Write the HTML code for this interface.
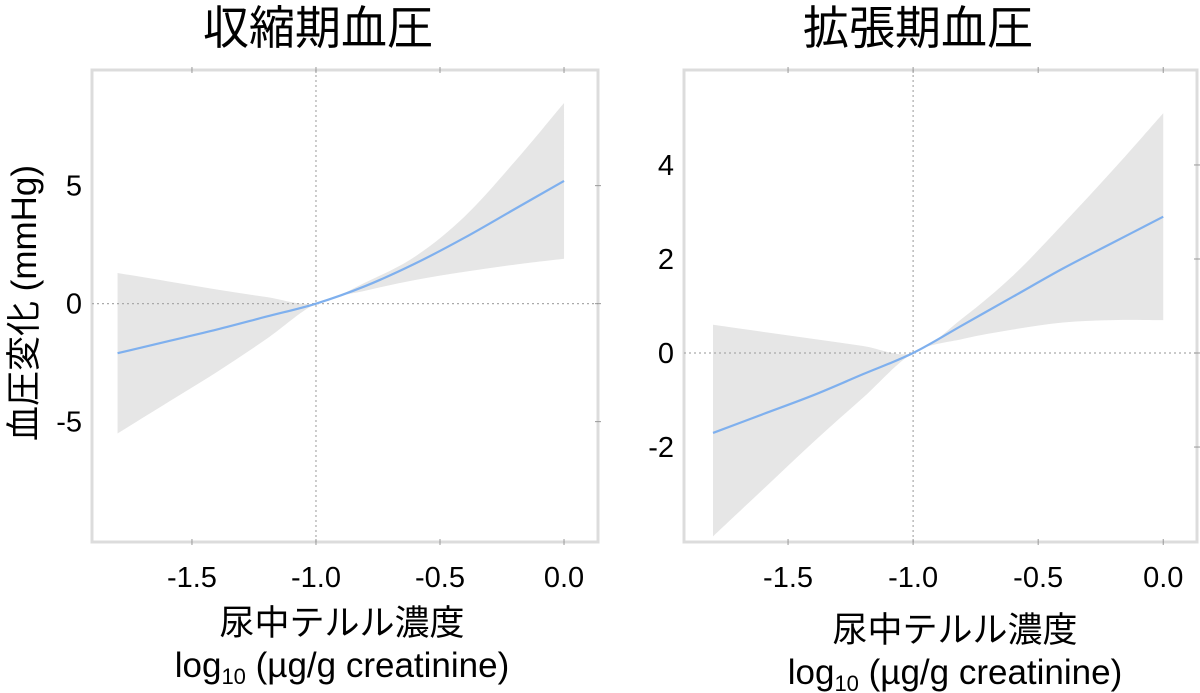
<!DOCTYPE html>
<html><head><meta charset="utf-8"><style>
body{margin:0;background:#fff;}
svg{display:block;font-family:"Liberation Sans","Noto Sans CJK JP",sans-serif;}
</style></head><body>
<svg id="c" width="1200" height="693"></svg>
<script>
const xs=[-1.8,-1.6,-1.4,-1.2,-1.0,-0.8,-0.6,-0.4,-0.2,0];
const sysLine=[-2.1,-1.6,-1.1,-0.55,0,0.75,1.7,2.8,4.0,5.2];
const sysUpper=[1.3,0.95,0.6,0.28,0,0.9,2.0,3.7,6.0,8.5];
const sysLower=[-5.5,-4.2,-2.9,-1.5,0,0.55,1.0,1.35,1.65,1.9];
const diaLine=[-1.7,-1.3,-0.9,-0.45,0,0.6,1.2,1.8,2.35,2.9];
const diaUpper=[0.6,0.45,0.3,0.15,0,0.75,1.65,2.75,3.9,5.1];
const diaLower=[-3.9,-2.9,-1.9,-0.95,0,0.3,0.5,0.65,0.7,0.7];
const xTicks=[-1.5,-1.0,-0.5,0.0];
const sysYTicks=[-5,0,5];
const diaYTicks=[-2,0,2,4];
const NS="http://www.w3.org/2000/svg";
const svg=document.getElementById('c');
function mk(t,a,p){const e=document.createElementNS(NS,t);for(const k in a)e.setAttribute(k,a[k]);(p||svg).appendChild(e);return e;}
function smooth(pts){let d='M'+pts[0][0]+','+pts[0][1];for(let i=0;i<pts.length-1;i++){const p0=pts[Math.max(i-1,0)],p1=pts[i],p2=pts[i+1],p3=pts[Math.min(i+2,pts.length-1)];d+='C'+(p1[0]+(p2[0]-p0[0])/6)+','+(p1[1]+(p2[1]-p0[1])/6)+' '+(p2[0]-(p3[0]-p1[0])/6)+','+(p2[1]-(p3[1]-p1[1])/6)+' '+p2[0]+','+p2[1];}return d;}
function panel(o){
 const g=mk('g',{});
 
 
 const sx=v=>o.x0+(v-o.xmin)/(o.xmax-o.xmin)*(o.x1-o.x0);
 const sy=v=>o.y1-(v-o.ymin)/(o.ymax-o.ymin)*(o.y1-o.y0);
 const fr=mk('rect',{x:o.x0,y:o.y0,width:o.x1-o.x0,height:o.y1-o.y0,fill:'none',stroke:'#dcdcdc','stroke-width':3},g);
 
 
 const up=xs.map((x,i)=>[sx(x),sy(o.up[i])]);
 const lo=xs.map((x,i)=>[sx(x),sy(o.lo[i])]).reverse();
 const band=mk('path',{d:smooth(up)+smooth(lo).replace('M','L')+'Z',fill:'#e6e6e6'},g);
 
 
 const h=mk('line',{x1:o.x0,x2:o.x1,y1:sy(0),y2:sy(0),stroke:'#aaa','stroke-dasharray':'2,3','stroke-width':1.2},g);
 
 
 const v=mk('line',{x1:sx(-1),x2:sx(-1),y1:o.y0,y2:o.y1,stroke:'#aaa','stroke-dasharray':'2,3','stroke-width':1.2},g);
 
 
 const ln=mk('path',{d:smooth(xs.map((x,i)=>[sx(x),sy(o.line[i])])),fill:'none',stroke:'#7fb0ee','stroke-width':2.2},g);
 
 
 xTicks.forEach(t=>{
  const tk=mk('line',{x1:sx(t),x2:sx(t),y1:o.y1-3,y2:o.y1+3,stroke:'#999'},g);
  
  
  const tk2=mk('line',{x1:sx(t),x2:sx(t),y1:o.y0-3,y2:o.y0+3,stroke:'#999'},g);
  
  
  const tl=mk('text',{x:sx(t),y:o.y1+45,'font-size':29,'text-anchor':'middle'},g);
  tl.textContent=t.toFixed(1);
  
  
 });
 o.yt.forEach(t=>{
  const tk=mk('line',{x1:o.x1-3,x2:o.x1+3,y1:sy(t),y2:sy(t),stroke:'#999'},g);
  
  
  const tl=mk('text',{x:o.x0-10,y:sy(t)+10,'font-size':29,'text-anchor':'end'},g);
  tl.textContent=String(t);
  
  
 });
 const ti=mk('text',{x:o.tx,y:44,'font-size':46,'text-anchor':'middle'},g);
 ti.textContent=o.title;
 
 
 const xl=mk('text',{x:o.lx,y:o.ly,'font-size':35,'text-anchor':'middle'},g);
 xl.textContent='尿中テルル濃度';
 
 
 const xl2=mk('text',{x:o.lx,y:o.ly+42,'font-size':35,'text-anchor':'middle'},g);
 xl2.innerHTML='log<tspan font-size="22" dy="7">10</tspan><tspan dy="-7"> (µg/g creatinine)</tspan>';
 
 
}
panel({name:'systolic-panel',x0:92,x1:598,y0:70,y1:542,xmin:-1.903,xmax:0.137,ymin:-10.1,ymax:9.9,
 line:sysLine,up:sysUpper,lo:sysLower,yt:sysYTicks,title:'収縮期血圧',tx:318,lx:342,ly:635});
panel({name:'diastolic-panel',x0:684,x1:1197,y0:70,y1:542,xmin:-1.916,xmax:0.135,ymin:-4.02,ymax:6.02,
 line:diaLine,up:diaUpper,lo:diaLower,yt:diaYTicks,title:'拡張期血圧',tx:918,lx:955,ly:642});
const yl=mk('text',{x:0,y:0,'font-size':35,'text-anchor':'middle',transform:'translate(36,303) rotate(-90)'});
yl.textContent='血圧変化 (mmHg)';


</script>
</body></html>
